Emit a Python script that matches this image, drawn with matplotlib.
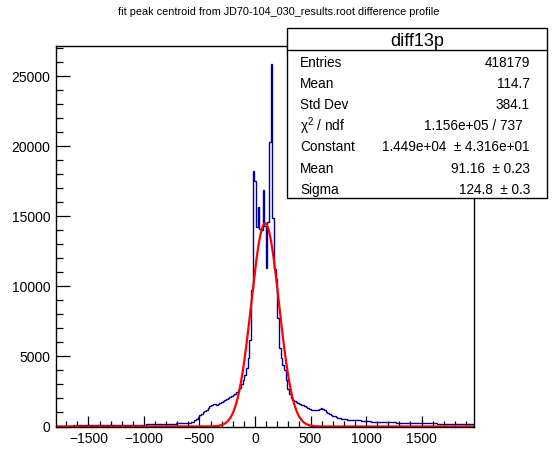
import numpy as np
import matplotlib
matplotlib.use('Agg')
import matplotlib.pyplot as plt
from matplotlib.ticker import MultipleLocator
from matplotlib.patches import Rectangle
from matplotlib.lines import Line2D

# ---------------- data ----------------
x_min = -1792.5
bin_width = 15.0

tail_left = [58, 63, 57, 66, 61, 68, 64, 59, 70, 66,
             73, 68, 75, 71, 78, 74, 69, 80, 76, 83,
             79, 86, 81, 77, 88, 84, 91, 87, 94, 89,
             96, 92, 99, 95, 102, 98, 104, 100, 108, 105,
             110, 106, 114, 118, 112, 121, 125, 119, 128, 132,
             126, 136, 141, 134, 145, 150, 143, 155, 161, 153,
             166, 172, 164, 178, 185, 176, 190, 197, 188, 204,
             211, 202, 218, 225, 216, 232, 238, 229, 246]
shoulder_left = [255, 275, 300, 340, 430, 530, 650, 800, 900, 1000,
                 1110, 1200, 1320, 1440, 1530, 1570, 1580, 1560, 1600, 1680,
                 1720, 1800, 1880, 1990, 2050, 2100, 2170, 2240, 2330, 2430,
                 2580, 2760, 3050, 3350]
core = [3650, 4200, 4900, 6200, 9750, 18250, 17500, 14200, 15650, 14100,
        14000, 16900, 14300, 11300, 14600, 20300, 25850, 14850, 11200, 10500,
        7730]
shoulder_right = [5600, 4900, 4400, 4000, 3300, 2700, 2300, 2050, 1900, 1800,
                  1740, 1690, 1640, 1560, 1500, 1430, 1390, 1330, 1270, 1210,
                  1170, 1160, 1180, 1200, 1240, 1300, 1280, 1150, 1060, 980,
                  900, 840, 780, 720, 660, 610, 580, 560, 530]
tail_right = [515, 502, 494, 481, 473, 466, 461, 452, 441, 432,
              418, 407, 396, 385, 372, 362, 351, 342, 336, 330,
              327, 321, 318, 313, 310, 305, 303, 297, 294, 289,
              287, 282, 280, 276, 273, 270, 268, 264,
              261, 258, 256, 252, 250, 247, 245, 241, 239, 236,
              234, 231, 229, 226, 224, 221, 219, 216, 214, 211,
              209, 207, 204, 202, 200, 198, 196, 194, 192, 190,
              188, 186, 185, 183, 182, 180, 179, 177, 176, 175]

fit_constant = 1.449e4
fit_mean = 91.16
fit_sigma = 124.8

title = "fit peak centroid from JD70-104_030_results.root difference profile"
stat_name = "diff13p"
stat_labels = ["Entries", "Mean", "Std Dev", "\u03c7$^{2}$ / ndf", "Constant", "Mean", "Sigma"]
stat_values = ["418179", "114.7", "384.1", "1.156e+05 / 737",
               "1.449e+04  \u00b1 4.316e+01", "91.16  \u00b1 0.23", "124.8  \u00b1 0.3"]

x_major = 500
x_minor = 100
y_major = 5000
y_minor = 1000

# ---------------- plot ----------------
counts = np.array(tail_left + shoulder_left + core + shoulder_right + tail_right, dtype=float)
edges = x_min + bin_width * np.arange(len(counts) + 1)

plt.rcParams['font.family'] = ['Liberation Sans', 'DejaVu Sans']
plt.rcParams['mathtext.fontset'] = 'custom'
plt.rcParams['mathtext.rm'] = 'Liberation Sans'
plt.rcParams['mathtext.it'] = 'Liberation Sans'
plt.rcParams['mathtext.default'] = 'regular'

W, H = 558, 474
fig = plt.figure(figsize=(W / 100, H / 100), dpi=100)
fig.patch.set_facecolor('white')

L, R, T, B = 56, 474, 46, 426.5
ax = fig.add_axes([L / W, 1 - B / H, (R - L) / W, (B - T) / H])

ax.stairs(counts, edges, color='#000099', lw=1.0)
xf = np.linspace(edges[0], edges[-1], 2000)
yf = fit_constant * np.exp(-0.5 * ((xf - fit_mean) / fit_sigma) ** 2)
ax.plot(xf, yf, color='#ff0000', lw=1.6, clip_on=True)

ax.set_xlim(edges[0], edges[-1])
ax.set_ylim(0, 1.05 * counts.max())

ax.xaxis.set_major_locator(MultipleLocator(x_major))
ax.xaxis.set_minor_locator(MultipleLocator(x_minor))
ax.yaxis.set_major_locator(MultipleLocator(y_major))
ax.yaxis.set_minor_locator(MultipleLocator(y_minor))
ax.tick_params(axis='both', which='both', direction='in', top=False, right=False,
               labelsize=10, width=0.9, color='black')
ax.tick_params(axis='x', which='major', length=8, pad=4)
ax.tick_params(axis='x', which='minor', length=4)
ax.tick_params(axis='y', which='major', length=10, pad=4)
ax.tick_params(axis='y', which='minor', length=5)
ax.xaxis.set_major_formatter(plt.FuncFormatter(lambda v, p: f"{v:.0f}".replace('-', '\u2212')))
ax.yaxis.set_major_formatter(plt.FuncFormatter(lambda v, p: f"{v:.0f}"))
for s in ax.spines.values():
    s.set_linewidth(1.0)

# title
fig.text(279 / W, 1 - 12 / H, title, ha='center', va='center', fontsize=7.8)

# stats box
bx0, bx1, by0, by1 = 287, 547, 28, 198
title_bottom = 49.5
box = Rectangle((bx0 / W, 1 - by1 / H), (bx1 - bx0) / W, (by1 - by0) / H,
                transform=fig.transFigure, facecolor='white', edgecolor='black',
                lw=1.0, zorder=10)
fig.add_artist(box)
fig.add_artist(Line2D([bx0 / W, bx1 / W], [1 - title_bottom / H] * 2,
                      transform=fig.transFigure, color='black', lw=1.0, zorder=11))
fig.text((bx0 + bx1) / 2 / W, 1 - 41 / H, stat_name, ha='center', va='center',
         fontsize=13, zorder=12)
row_h = (by1 - title_bottom) / len(stat_labels)
value_x = [530, 530, 530, 523, 530, 530, 530]
for i, (lab, val) in enumerate(zip(stat_labels, stat_values)):
    yc = title_bottom + row_h * (i + 0.5) + 2.5
    fig.text(300 / W, 1 - yc / H, lab, ha='left', va='center', fontsize=9.8, zorder=12)
    fig.text(value_x[i] / W, 1 - yc / H, val, ha='right', va='center', fontsize=9.8, zorder=12)

fig.savefig('out.png', dpi=100)
